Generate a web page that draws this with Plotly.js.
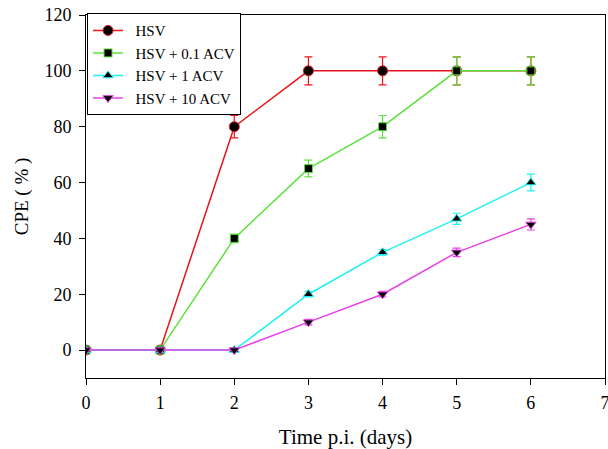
<!DOCTYPE html>
<html>
<head>
<meta charset="utf-8">
<script src="https://cdn.plot.ly/plotly-3.0.1.min.js"></script>
<style>html,body{margin:0;padding:0;background:#fff;}#chart{width:608px;height:449px;}</style>
</head>
<body>
<div id="chart"></div>
<script>
const days = [0, 1, 2, 3, 4, 5, 6];
const seriesNames = ["HSV", "HSV + 0.1 ACV", "HSV + 1 ACV", "HSV + 10 ACV"];
const hsv = [0, 0, 80, 100, 100, 100, 100];
const hsvErr = [0, 0, 4, 5, 5, 5, 5];
const acv01 = [0, 0, 40, 65, 80, 100, 100];
const acv01Err = [0, 0, 1.5, 3, 4, 5, 5];
const acv1 = [0, 0, 0, 20, 35, 47, 60];
const acv1Err = [0, 0, 0, 1, 1, 2, 3];
const acv10 = [0, 0, 0, 10, 20, 35, 45];
const acv10Err = [0, 0, 0, 1, 1, 1.5, 2];
const xTicks = [0, 1, 2, 3, 4, 5, 6, 7];
const yTicks = [0, 20, 40, 60, 80, 100, 120];

const colors = ["#e8151c", "#5ce23c", "#22f0f0", "#e840e8"];
const symbols = ["circle", "square", "triangle-up", "triangle-down"];
const sizes = [10, 8, 9, 9];
const ys = [hsv, acv01, acv1, acv10];
const errs = [hsvErr, acv01Err, acv1Err, acv10Err];

const traces = ys.map((y, i) => ({
  x: days, y: y, name: "\u00a0\u00a0" + seriesNames[i], type: "scatter", mode: "lines+markers",
  line: {color: colors[i], width: 1.5},
  marker: {symbol: symbols[i], size: sizes[i], color: "#000", line: {color: colors[i], width: 1}},
  error_y: {type: "data", array: errs[i], visible: true, color: colors[i], thickness: 1.2, width: 4}
}));

const layout = {
  width: 608, height: 449,
  margin: {l: 86, r: 3, t: 15, b: 71},
  paper_bgcolor: "#fff", plot_bgcolor: "#fff",
  font: {family: "Liberation Serif, Times New Roman, serif", size: 18, color: "#000"},
  showlegend: true,
  legend: {x: 0.002, y: 1.005, xanchor: "left", yanchor: "top", bordercolor: "#000", borderwidth: 1,
           bgcolor: "#fff", font: {size: 15, family: "Liberation Serif, serif"}, itemwidth: 30, tracegroupgap: 0},
  xaxis: {range: [0, 7], tickvals: xTicks, ticktext: xTicks.map(String), ticks: "outside", ticklen: 6,
          tickcolor: "#000", showline: true, linecolor: "#000", linewidth: 1, mirror: true, showgrid: false,
          zeroline: false, tickfont: {size: 18}, ticklabeloverflow: "allow", ticklabelstandoff: 2,
          title: {text: "Time p.i. (days)", font: {size: 21}, standoff: 20}},
  yaxis: {range: [-10, 120], tickvals: yTicks, ticktext: yTicks.map(String), ticks: "outside", ticklen: 6,
          tickcolor: "#000", showline: true, linecolor: "#000", linewidth: 1, mirror: true, showgrid: false,
          zeroline: false, tickfont: {size: 18}, ticklabelstandoff: 4,
          title: {text: "CPE ( % )", font: {size: 19}, standoff: 10}}
};

Plotly.newPlot("chart", traces, layout, {displayModeBar: false, staticPlot: true});
</script>
</body>
</html>
